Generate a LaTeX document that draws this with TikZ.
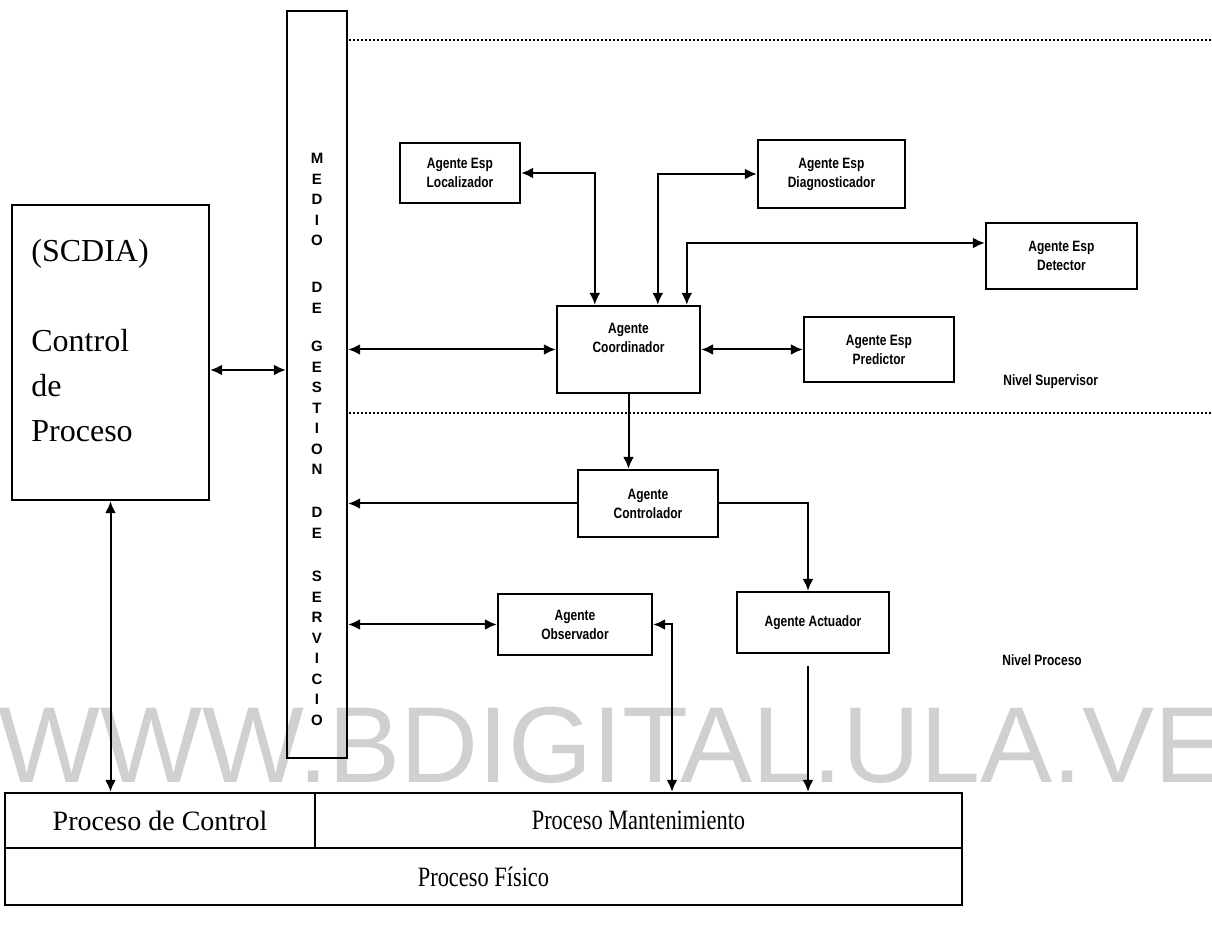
\documentclass[tikz,border=0pt]{standalone}
\usepackage{fontspec}
\setmainfont{Liberation Serif}
\newfontfamily\estrecha{Liberation Serif}[FakeStretch=0.8]
\newfontfamily\agentfont{Liberation Sans}[FakeStretch=0.8]
\newfontfamily\letrafont{Liberation Sans}
\usetikzlibrary{arrows.meta}
\definecolor{markgray}{RGB}{208,208,208}

\begin{document}
\begin{tikzpicture}[x=0.5pt,y=-0.5pt,
  >={Latex[length=6pt,width=5.5pt]},
  caja/.style={draw,line width=1.2pt,inner sep=0pt},
  agtexto/.style={align=center,font=\agentfont\bfseries\fontsize{7.5}{9.5}\selectfont},
  agente/.style={caja,agtexto},
  flecha/.style={line width=1pt},
  letras/.style={align=center,inner sep=0pt,anchor=north,font=\letrafont\bfseries\fontsize{7.5}{10.25}\selectfont},
  nivel/.style={anchor=west,inner sep=0pt,font=\agentfont\bfseries\fontsize{7.5}{9}\selectfont},
  proceso/.style={caja,font=\fontsize{14}{16}\selectfont}]
  \useasboundingbox (0,0) rectangle (1212,929);
  \node[anchor=base west,inner sep=0pt,text=markgray,font=\letrafont\fontsize{54}{54}\selectfont] (marca) at (-2,783) {WWW.BDIGITAL.ULA.VE};

  % control de proceso y medio de gestion
  \node[caja,minimum width=98.5pt,minimum height=147.5pt] (ctrl) at (110.5,352.5) {};
  \node[anchor=north west,align=left,inner sep=0pt,font=\fontsize{16}{22.5}\selectfont] (ctrltxt) at (31,239) {(SCDIA)\\[22.5pt]Control\\de\\Proceso};
  \node[caja,minimum width=30pt,minimum height=373.5pt] (medio) at (317,384.5) {};
  \foreach \palabra/\arriba [count=\i] in {{M\\E\\D\\I\\O}/158,{D\\E}/287,{G\\E\\S\\T\\I\\O\\N}/346,{D\\E}/512,{S\\E\\R\\V\\I\\C\\I\\O}/576}{
    \node[letras] (letras\i) at (317,\arriba-5) {\palabra};
  }

  % niveles
  \draw[densely dotted,line width=1pt] (349,40) -- (1212,40);
  \draw[densely dotted,line width=1pt] (349,413) -- (1212,413);
  \node[nivel] (nsup) at (1003,382) {Nivel Supervisor};
  \node[nivel] (nproc) at (1002,660) {Nivel Proceso};

  % agentes
  \node[agente,minimum width=60pt,minimum height=30pt] (loc) at (460,173) {Agente Esp\\Localizador};
  \node[agente,minimum width=73.5pt,minimum height=34pt] (diag) at (831.5,174) {Agente Esp\\Diagnosticador};
  \node[agente,minimum width=75.5pt,minimum height=33pt] (det) at (1061.5,256) {Agente Esp\\Detector};
  \node[agente,minimum width=71.5pt,minimum height=43.5pt] (coord) at (628.5,349.5) {};
  \node[agtexto] (coordtxt) at ([yshift=6pt]coord.center) {Agente\\Coordinador};
  \node[agente,minimum width=75pt,minimum height=32.5pt] (pred) at (879,349.5) {Agente Esp\\Predictor};
  \node[agente,minimum width=70pt,minimum height=33.5pt] (contr) at (648,503.5) {Agente\\Controlador};
  \node[agente,minimum width=76pt,minimum height=30.5pt] (act) at (813,622.5) {Agente Actuador};
  \node[agente,minimum width=77pt,minimum height=30.5pt] (obs) at (575,624.5) {Agente\\Observador};

  % procesos
  \node[proceso,minimum width=155pt,minimum height=27.5pt] (pcontrol) at (160,820.5) {Proceso de Control};
  \node[proceso,minimum width=323.5pt,minimum height=27.5pt] (pmant) at (638.5,820.5) {\estrecha Proceso Mantenimiento};
  \node[proceso,minimum width=478.5pt,minimum height=28.5pt] (pfisico) at (483.5,876.5) {\estrecha Proceso Físico};

  % conexiones
  \draw[flecha,<->] (ctrl.east |- 0,370) -- (medio.west |- 0,370);
  \draw[flecha,<->] (medio.east |- coord.west) -- (coord.west);
  \draw[flecha,<->] (coord.east) -- (pred.west);
  \draw[flecha,<->] (loc.east) -| ([xshift=19.5pt]coord.north west);
  \draw[flecha,<->] (diag.west) -| ([xshift=51pt]coord.north west);
  \draw[flecha,<->] ([yshift=6.5pt]det.west) -| ([xshift=65.5pt]coord.north west);
  \draw[flecha,->] (coord.south) -- (coord.south |- contr.north);
  \draw[flecha,->] (contr.west) -- (contr.west -| medio.east);
  \draw[flecha,->] (contr.east) -| ([xshift=-2.5pt]act.north);
  \draw[flecha,<->] (obs.west -| medio.east) -- (obs.west);
  \draw[flecha,<->] (obs.east) -| (672,0 |- pmant.north);
  \coordinate (actbajo) at ([xshift=-2.5pt,yshift=-6pt]act.south);
  \draw[flecha,->] (actbajo) -- (actbajo |- pmant.north);
  \draw[flecha,<->] (ctrl.south) -- (ctrl.south |- pcontrol.north);
\end{tikzpicture}
\end{document}
